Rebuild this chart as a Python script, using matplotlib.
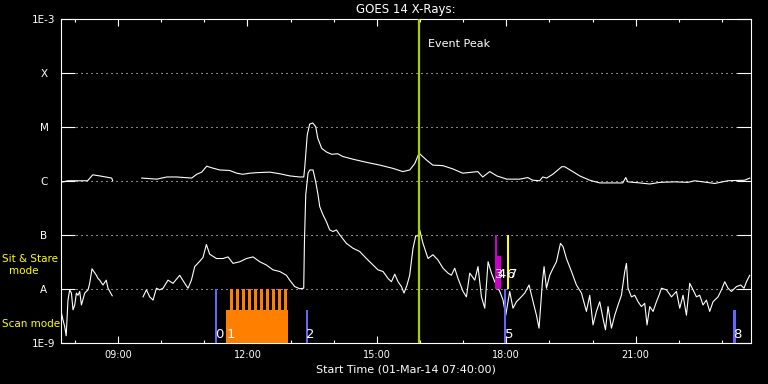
import numpy as np
import matplotlib.pyplot as plt

# GOES 14 X-rays, 01-Mar-14; time in minutes after 07:40, flux as log10(W/m^2)
# long channel (1-8 A), data gap between ~08:53 and ~09:33
long_t1 = [0, 4.5, 10, 37.7, 44.8, 54.5, 62.9, 71.2, 72.6]
long_l1 = [-6.01, -6.01, -5.99, -5.99, -5.88, -5.90, -5.92, -5.94, -5.99]
long_t2 = [113, 133.9, 147.8, 161.6, 182.5, 189.5, 196.4, 203.4, 210.3, 221.5,
           235.4, 245.1, 253.5, 263.2, 272.9, 291, 305, 318.9, 332.8, 338.4,
           339.8, 343.2, 346.6, 350.8, 355, 357.8, 363.3, 370.3, 377.3, 385.6,
           392.6, 406.5, 426, 444.1, 462.2, 476.1, 485.8, 492.8, 498.7, 509.4,
           517.8, 531.7, 545.6, 559.5, 573.4, 580.4, 587.3, 597.1, 606.8, 620.7,
           638.8, 649.9, 656.8, 666.6, 670.7, 676.3, 684.7, 697.2, 701.4, 712.5,
           722.2, 736.1, 750, 782, 786.2, 789, 805.7, 819.6, 833.5, 854.4,
           872.4, 882.2, 910, 928.1, 951.7, 958.7]
long_l2 = [-5.94, -5.96, -5.92, -5.92, -5.94, -5.87, -5.83, -5.72, -5.75, -5.79,
           -5.80, -5.85, -5.87, -5.85, -5.84, -5.83, -5.86, -5.90, -5.92, -5.92,
           -5.73, -5.14, -4.94, -4.92, -4.99, -5.20, -5.39, -5.46, -5.50, -5.49,
           -5.54, -5.59, -5.65, -5.70, -5.76, -5.82, -5.79, -5.67, -5.48, -5.61,
           -5.70, -5.71, -5.77, -5.85, -5.83, -5.82, -5.92, -5.82, -5.90, -5.96,
           -5.96, -5.93, -5.98, -5.99, -5.92, -5.94, -5.87, -5.73, -5.73, -5.82,
           -5.90, -5.98, -6.03, -6.03, -5.93, -6.01, -6.03, -6.05, -6.02, -6.01,
           -6.02, -5.99, -6.04, -5.99, -5.98, -5.94]

# short channel (0.5-4 A)
short_t1 = [0, 1.3, 3.5, 5.8, 7.9, 10.4, 12.8, 15.2, 17.4, 19.8, 22.1, 24.3, 26.7,
            29.1, 33.7, 36.0, 38.3, 40.6, 43.8, 49.9, 52.2, 54.5, 59.1, 63.6, 66.1, 71.9]
short_l1 = [-8.48, -8.44, -8.57, -8.69, -8.86, -8.20, -8.01, -8.07, -8.38, -8.29,
            -8.07, -8.11, -8.04, -8.29, -8.07, -8.04, -8.01, -7.89, -7.62, -7.74,
            -7.80, -7.83, -7.92, -7.83, -7.98, -8.12]
short_t2 = [114.8, 119.5, 124.1, 128.7, 133.4, 138.0, 142.6, 149.5, 156.5, 165.8,
            172.8, 177.4, 182.1, 186.7, 193.7, 198.2, 202.9, 207.5, 216.9, 226.0,
            233.0, 240.0, 249.3, 258.6, 267.8, 277.1, 286.4, 295.6, 304.9, 314.2,
            318.8, 325.8, 332.7, 338.3, 339.3, 341.1, 344.3, 346.7, 351.2, 355.0,
            358.2, 360.6, 365.1, 369.9, 374.4, 379.0, 383.8, 388.3, 397.7, 406.9,
            416.2, 425.5, 434.7, 441.6, 448.6, 455.6, 460.3, 464.9, 469.5, 474.2,
            477.8, 482.0, 485.7, 490.3, 494.1, 497.3, 499.6, 504.2, 511.2, 518.1,
            525.1, 532.1, 539.0, 543.7, 548.3, 552.9, 559.9, 564.6, 569.2, 576.2,
            580.7, 585.5, 590.1, 594.7, 599.4, 604.0, 611.0, 615.5, 619.3, 624.8,
            629.4, 634.2, 638.8, 645.7, 651.7, 657.3, 662.0, 665.6, 670.3, 672.6,
            675.9, 680.5, 685.1, 689.8, 695.4, 699.0, 703.7, 710.7, 717.6, 724.6,
            731.5, 736.1, 740.7, 745.4, 750.0, 754.6, 758.0, 761.6, 766.3, 770.9,
            775.5, 780.2, 784.8, 787.2, 789.4, 794.1, 798.7, 803.3, 808.0, 812.6,
            815.8, 819.6, 824.2, 828.9, 832.5, 835.9, 842.8, 849.8, 856.7, 861.3,
            865.9, 870.6, 875.2, 879.8, 884.5, 889.1, 893.7, 898.4, 903.0, 907.6,
            914.6, 919.3, 923.9, 928.5, 933.2, 940.2, 946.1, 950.7, 954.1, 958.7]
short_l2 = [-8.14, -8.01, -8.14, -8.20, -7.98, -8.01, -7.98, -7.83, -7.89, -7.74,
            -7.89, -7.98, -7.83, -7.58, -7.48, -7.41, -7.17, -7.35, -7.43, -7.43,
            -7.40, -7.52, -7.49, -7.43, -7.40, -7.49, -7.55, -7.64, -7.67, -7.74,
            -7.83, -7.95, -7.99, -7.98, -7.12, -6.25, -5.85, -5.79, -5.79, -6.01,
            -6.25, -6.47, -6.62, -6.75, -6.90, -6.93, -6.90, -6.99, -7.15, -7.24,
            -7.30, -7.43, -7.55, -7.64, -7.67, -7.80, -7.86, -7.72, -7.86, -7.95,
            -8.07, -7.92, -7.74, -7.24, -7.01, -7.01, -6.90, -7.15, -7.43, -7.36,
            -7.46, -7.61, -7.70, -7.74, -7.61, -7.80, -8.04, -8.14, -7.70, -7.83,
            -7.58, -8.14, -8.35, -7.49, -7.70, -7.86, -8.04, -8.20, -8.48, -8.04,
            -8.35, -8.23, -8.17, -8.07, -7.92, -8.23, -8.48, -8.72, -7.86, -7.58,
            -7.98, -7.74, -7.61, -7.49, -7.15, -7.21, -7.43, -7.67, -7.92, -8.07,
            -8.41, -8.11, -8.66, -8.41, -8.23, -8.54, -8.75, -8.32, -8.72, -8.48,
            -8.29, -8.11, -7.67, -7.52, -7.98, -8.14, -8.11, -8.23, -8.32, -8.26,
            -8.66, -8.32, -8.41, -8.23, -8.11, -7.98, -8.01, -8.14, -8.04, -8.35,
            -8.11, -8.48, -7.89, -8.01, -8.14, -8.11, -8.29, -8.20, -8.41, -8.23,
            -8.14, -8.01, -7.86, -7.98, -8.04, -7.95, -7.92, -7.98, -7.86, -7.74]

# observations (minutes after 07:40), mode and top level (log10)
obs_labels = ['0', '1', '2', '3', '4', '5', '6', '7', '8']
obs_start = [214.5, 230.8, 341.1, 604.0, 607.7, 616.5, 620.5, 620.5, 935.5]
obs_end = [218.3, 317.0, 344.8, 607.7, 612.3, 620.3, 623.7, 623.7, 939.2]
obs_mode = ['scan', 'scan', 'scan', 'sit', 'sit', 'scan', 'sit', 'sit', 'scan']
obs_top = [-8.0, -8.38, -8.38, -7.0, -7.38, -8.0, -7.0, -7.0, -8.38]
obs_color = ['#6464ff', '#ff8000', '#6464ff', '#c800c8', '#c800c8',
             '#6464ff', '#ffff00', '#ffff00', '#6464ff']
obs_label_dx = [0.5, 0.5, 0.5, 0.5, 0.3, 1.5, -1.0, 3.0, 0.5]
# individual rasters inside observation 1
raster_start = [235.4, 243.7, 252.1, 260.4, 268.8, 277.1, 285.5, 293.8, 302.1, 310.5]
raster_len = 4.6

event_peak = 499   # 15:59
x_major = [80, 260, 440, 620, 800]
x_major_labels = ['09:00', '12:00', '15:00', '18:00', '21:00']
x_minor = [20, 140, 200, 320, 380, 500, 560, 680, 740, 860, 920]
y_levels = [-9, -8, -7, -6, -5, -4, -3]
y_labels = ['1E-9', 'A', 'B', 'C', 'M', 'X', '1E-3']

W, H = 768, 384
fig = plt.figure(figsize=(W / 100, H / 100), dpi=100, facecolor='black')
ax = fig.add_axes([60.5 / W, 1 - 343.3 / H, 690.2 / W, 324 / H])
ax.set_facecolor('black')
ax.set_yscale('log')
ax.set_xlim(0, 960)
ax.set_ylim(1e-9, 1e-3)

# dotted class levels
for lev in y_levels[1:-1]:
    ax.axhline(10.0 ** lev, color='white', lw=0.75, ls=(0, (1, 3.8)), zorder=1)

# flux curves
lt = long_t1 + [np.nan] + long_t2
ll = np.array(long_l1 + [np.nan] + long_l2)
st = short_t1 + [np.nan] + short_t2
sl = np.array(short_l1 + [np.nan] + short_l2)
ax.plot(lt, 10.0 ** ll, color='white', lw=0.8, zorder=3)
ax.plot(st, 10.0 ** sl, color='white', lw=0.8, zorder=3)

# observation bars
for lab, t0, t1, top, mode, col, dx in zip(obs_labels, obs_start, obs_end, obs_top,
                                          obs_mode, obs_color, obs_label_dx):
    base = -9.0 if mode == 'scan' else -8.0
    ax.bar(t0, 10.0 ** top - 10.0 ** base, bottom=10.0 ** base, width=t1 - t0,
           align='edge', color=col, lw=0, zorder=4)
    ly = base + 0.1 if mode == 'scan' else base + 0.2
    ax.text(t0 + dx, 10.0 ** ly, lab, color='white', fontsize=9.5,
            ha='left', va='baseline', zorder=6)
for r0 in raster_start:
    ax.bar(r0, 1e-8 - 1e-9, bottom=1e-9, width=raster_len, align='edge',
           color='#ff8000', lw=0, zorder=4)

# event peak
ax.axvline(event_peak, color='#a8d000', lw=1.6, zorder=5)
ax.text(event_peak + 12, 10.0 ** -3.46, 'Event Peak', color='white',
        fontsize=8, ha='left', va='center')

# axes styling
for s in ax.spines.values():
    s.set_color('white')
    s.set_linewidth(0.8)
ax.set_xticks(x_major)
ax.set_xticklabels(x_major_labels)
ax.set_xticks(x_minor, minor=True)
ax.tick_params(axis='x', which='major', direction='in', length=4.7, width=0.8,
               top=True, colors='white', labelsize=7, pad=5)
ax.tick_params(axis='x', which='minor', direction='in', length=2.2, width=0.8,
               top=True, colors='white')
ax.set_yticks([10.0 ** v for v in y_levels])
ax.set_yticklabels(y_labels)
ax.yaxis.set_minor_locator(plt.NullLocator())
ax.tick_params(axis='y', direction='in', length=10.1, width=0.8, right=True,
               colors='white', labelsize=7.5, pad=11.9)
for lab in ax.get_yticklabels():
    lab.set_horizontalalignment('center')

fig.text(405.6 / W, 1 - 9 / H, 'GOES 14 X-Rays:', color='white', fontsize=8.5,
         ha='center', va='center')
fig.text(405.6 / W, 1 - 370 / H, 'Start Time (01-Mar-14 07:40:00)', color='white',
         fontsize=8, ha='center', va='center')
fig.text(2 / W, 1 - 259 / H, 'Sit & Stare', color='yellow', fontsize=7.5,
         ha='left', va='center')
fig.text(24 / W, 1 - 271 / H, 'mode', color='yellow', fontsize=7.5,
         ha='center', va='center')
fig.text(2 / W, 1 - 324 / H, 'Scan mode', color='yellow', fontsize=7.5,
         ha='left', va='center')

fig.savefig('out.png', dpi=100, facecolor='black')
